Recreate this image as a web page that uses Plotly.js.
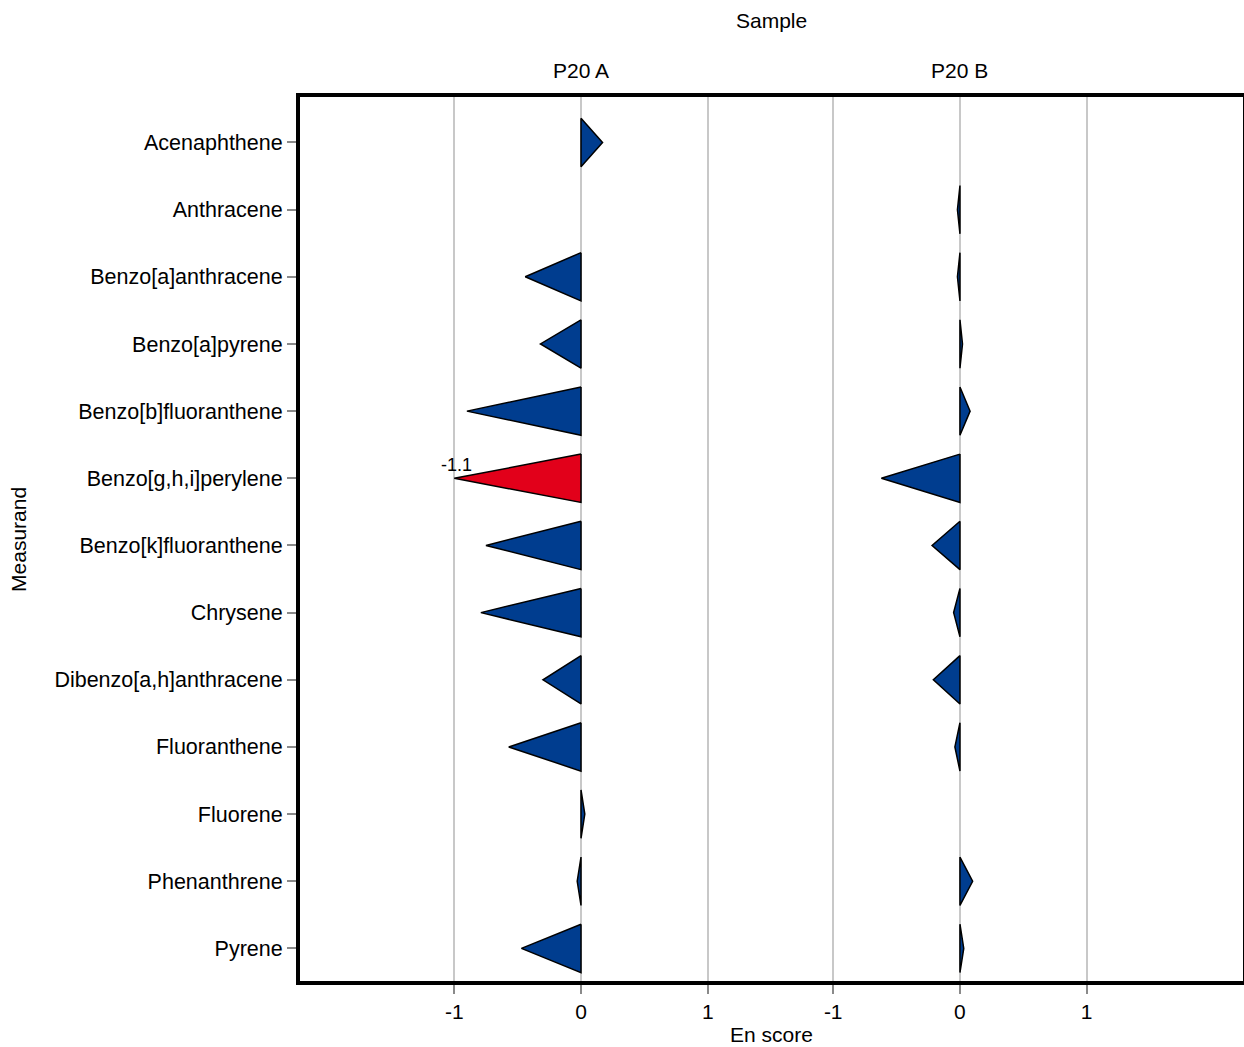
<!DOCTYPE html>
<html>
<head>
<meta charset="utf-8">
<script src="https://cdn.plot.ly/plotly-3.0.1.min.js"></script>
<style>
html, body { margin: 0; padding: 0; overflow: hidden; background: #fff; }
#chart { width: 1246px; height: 1047px; }
</style>
</head>
<body>
<div id="chart"></div>
<script>
// ---- data ----
const measurands = [
  "Acenaphthene", "Anthracene", "Benzo[a]anthracene", "Benzo[a]pyrene",
  "Benzo[b]fluoranthene", "Benzo[g,h,i]perylene", "Benzo[k]fluoranthene",
  "Chrysene", "Dibenzo[a,h]anthracene", "Fluoranthene", "Fluorene",
  "Phenanthrene", "Pyrene"
];
const samples = ["P20 A", "P20 B"];
const enScoreA = [0.17, null, -0.44, -0.32, -0.90, -1.1, -0.75, -0.79, -0.30, -0.57, 0.03, -0.03, -0.47];
const enScoreB = [null, -0.02, -0.02, 0.02, 0.08, -0.62, -0.22, -0.05, -0.21, -0.04, null, 0.10, 0.03];
const xTickVals = [-1, 0, 1];
const xTickText = ["-1", "0", "1"];
const limit = 1;

// ---- styles ----
const blue = "#003d8f";
const red = "#e2001a";
const font = "Liberation Sans, Arial, Helvetica, sans-serif";
const halfH = 0.36;

const traces = [];
const annotations = [];
[enScoreA, enScoreB].forEach((vals, p) => {
  const xa = p === 0 ? "x" : "x2";
  vals.forEach((v, i) => {
    if (v === null) return;
    const over = Math.abs(v) > limit;
    const shown = over ? Math.sign(v) * limit : v;
    traces.push({
      type: "scatter", mode: "lines", xaxis: xa, yaxis: "y",
      x: [0, shown, 0, 0], y: [i - halfH, i, i + halfH, i - halfH],
      fill: "toself", fillcolor: over ? red : blue,
      line: { color: "#000", width: 1.5 },
      hoverinfo: "text", text: measurands[i] + ": " + v,
      showlegend: false
    });
    if (over) {
      annotations.push({
        xref: xa, yref: "y", x: shown, y: i, yshift: 13, xshift: 2,
        text: String(v), showarrow: false,
        font: { family: font, size: 18, color: "#000" }
      });
    }
  });
});

samples.forEach((s, p) => {
  annotations.push({
    xref: p === 0 ? "x" : "x2", yref: "paper", x: 0, y: 1.0281,
    yanchor: "middle", text: s, showarrow: false,
    font: { family: font, size: 21, color: "#000" }
  });
});
annotations.push({ xref: "paper", yref: "paper", x: 0.5, y: 1.0844, yanchor: "middle",
  text: "Sample", showarrow: false, font: { family: font, size: 21, color: "#000" } });
annotations.push({ xref: "paper", yref: "paper", x: 0.5, y: -0.0585, yanchor: "middle",
  text: "En score", showarrow: false, font: { family: font, size: 21, color: "#000" } });
annotations.push({ xref: "paper", yref: "paper", x: -0.2957, y: 0.5, xanchor: "center", yanchor: "middle",
  text: "Measurand", textangle: -90, showarrow: false, font: { family: font, size: 21, color: "#000" } });

const xBase = {
  tickvals: xTickVals, ticktext: xTickText,
  showgrid: true, gridcolor: "#c8c8c8", gridwidth: 2,
  zeroline: false, showline: false,
  ticks: "outside", ticklen: 10, tickwidth: 2, tickcolor: "#8a8a8a",
  tickfont: { family: font, size: 21, color: "#000" },
  fixedrange: true
};

const layout = {
  width: 1246, height: 1047,
  margin: { l: 298, r: 1, t: 95, b: 64 },
  paper_bgcolor: "#fff", plot_bgcolor: "#fff",
  xaxis: Object.assign({}, xBase, { domain: [0, 0.5], range: [-2.233, 1.503], anchor: "y" }),
  xaxis2: Object.assign({}, xBase, { domain: [0.5, 1], range: [-1.487, 2.249], anchor: "y" }),
  yaxis: {
    range: [12.515, -0.707],
    tickvals: measurands.map((_, i) => i), ticktext: measurands,
    showgrid: false, zeroline: false, showline: false,
    ticks: "outside", ticklen: 10, tickwidth: 2, tickcolor: "#8a8a8a",
    tickfont: { family: font, size: 21.5, color: "#000" },
    fixedrange: true
  },
  shapes: [{
    type: "rect", xref: "paper", yref: "paper", x0: 0, x1: 1, y0: 0, y1: 1,
    line: { color: "#000", width: 4 }, fillcolor: "rgba(0,0,0,0)", layer: "above"
  }],
  annotations: annotations,
  showlegend: false
};

Plotly.newPlot("chart", traces, layout, { displayModeBar: false, staticPlot: true });
</script>
</body>
</html>
